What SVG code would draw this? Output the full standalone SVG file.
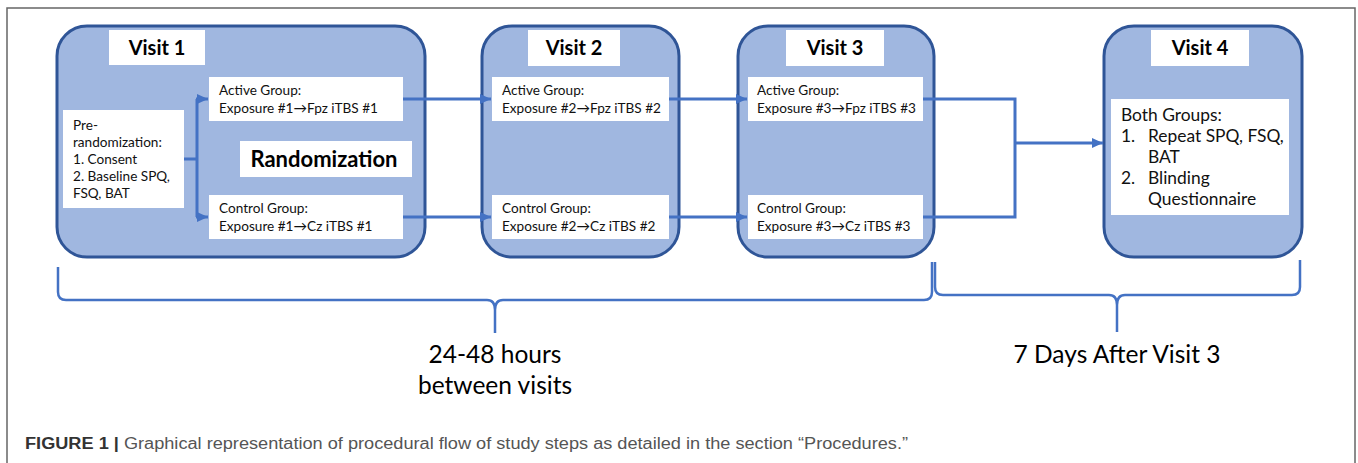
<svg xmlns="http://www.w3.org/2000/svg" width="1358" height="463" viewBox="0 0 1358 463">
<style>
.visit{fill:#A0B7E0;stroke:#2F5597;stroke-width:3}
.wb{fill:#FFFFFF;stroke:none}
.t{font-family:Lato,"Liberation Sans",sans-serif;fill:#111}
.lbl{font-family:Lato,"Liberation Sans",sans-serif;font-weight:bold;font-size:20px;fill:#000;text-anchor:middle}
.g{font-size:13.6px}
.v4{font-size:17.4px}
.conn{fill:none;stroke:#4472C4;stroke-width:3}
.br{fill:none;stroke:#4472C4;stroke-width:2.5}
.big{font-family:Lato,"Liberation Sans",sans-serif;font-size:24.5px;fill:#000;text-anchor:middle}
.cap{font-family:"Liberation Sans",Arial,sans-serif;font-size:16px;fill:#555}
</style>
<defs>
<marker id="ah" markerUnits="userSpaceOnUse" markerWidth="12" markerHeight="12" viewBox="0 0 12 12" refX="11" refY="6" orient="auto">
<path d="M0,1 L11,6 L0,11 Z" fill="#4472C4"/>
</marker>
</defs>
<rect x="7" y="8" width="1348" height="470" fill="none" stroke="#666" stroke-width="1.5"/>

<g id="visit1">
<rect class="visit" x="57" y="26" width="368" height="231" rx="30"/>
<rect class="wb" x="109" y="30" width="96" height="35"/>
<text class="lbl" x="157" y="55">Visit 1</text>
</g>
<g id="prerand">
<rect class="wb" x="63" y="110" width="121" height="98"/>
<text class="t g" x="73"><tspan x="73" y="130">Pre-</tspan><tspan x="73" y="147">randomization:</tspan><tspan x="73" y="164">1. Consent</tspan><tspan x="73" y="181">2. Baseline SPQ,</tspan><tspan x="73" y="198">FSQ, BAT</tspan></text>
</g>
<g id="active1">
<rect class="wb" x="209" y="77" width="194" height="44"/>
<text class="t g"><tspan x="219" y="95">Active Group:</tspan><tspan x="219" y="113">Exposure #1→Fpz iTBS #1</tspan></text>
</g>
<g id="randomization">
<rect class="wb" x="240" y="141" width="172" height="36"/>
<text class="lbl" x="324" y="167" style="font-size:22px">Randomization</text>
</g>
<g id="control1">
<rect class="wb" x="209" y="195" width="194" height="44"/>
<text class="t g"><tspan x="219" y="213">Control Group:</tspan><tspan x="219" y="231">Exposure #1→Cz iTBS #1</tspan></text>
</g>

<g id="visit2">
<rect class="visit" x="482" y="26" width="197" height="231" rx="30"/>
<rect class="wb" x="528" y="30" width="92" height="36"/>
<text class="lbl" x="574" y="55">Visit 2</text>
</g>
<g id="active2">
<rect class="wb" x="492" y="77" width="177" height="44"/>
<text class="t g"><tspan x="502" y="95">Active Group:</tspan><tspan x="502" y="113">Exposure #2→Fpz iTBS #2</tspan></text>
</g>
<g id="control2">
<rect class="wb" x="492" y="195" width="177" height="44"/>
<text class="t g"><tspan x="502" y="213">Control Group:</tspan><tspan x="502" y="231">Exposure #2→Cz iTBS #2</tspan></text>
</g>

<g id="visit3">
<rect class="visit" x="738" y="26" width="196" height="231" rx="30"/>
<rect class="wb" x="786" y="30" width="98" height="36"/>
<text class="lbl" x="835" y="55">Visit 3</text>
</g>
<g id="active3">
<rect class="wb" x="748" y="77" width="175" height="44"/>
<text class="t g"><tspan x="757" y="95">Active Group:</tspan><tspan x="757" y="113">Exposure #3→Fpz iTBS #3</tspan></text>
</g>
<g id="control3">
<rect class="wb" x="748" y="195" width="175" height="44"/>
<text class="t g"><tspan x="757" y="213">Control Group:</tspan><tspan x="757" y="231">Exposure #3→Cz iTBS #3</tspan></text>
</g>

<g id="visit4">
<rect class="visit" x="1104" y="26" width="198" height="231" rx="30"/>
<rect class="wb" x="1151" y="30" width="98" height="36"/>
<text class="lbl" x="1200" y="55">Visit 4</text>
</g>
<g id="bothgroups">
<rect class="wb" x="1111" y="99" width="178" height="116"/>
<text class="t v4"><tspan x="1121" y="121">Both Groups:</tspan><tspan x="1121" y="142">1.</tspan><tspan x="1148" y="142">Repeat SPQ, FSQ,</tspan><tspan x="1148" y="163">BAT</tspan><tspan x="1121" y="184">2.</tspan><tspan x="1148" y="184">Blinding</tspan><tspan x="1148" y="205">Questionnaire</tspan></text>
</g>

<g id="connectors">
<path class="conn" d="M184,159 H197 M197,99 V217"/>
<path class="conn" d="M196,99 H208" marker-end="url(#ah)"/>
<path class="conn" d="M196,217 H208" marker-end="url(#ah)"/>
<path class="conn" d="M403,99 H491" marker-end="url(#ah)"/>
<path class="conn" d="M403,217 H491" marker-end="url(#ah)"/>
<path class="conn" d="M669,99 H747" marker-end="url(#ah)"/>
<path class="conn" d="M669,217 H747" marker-end="url(#ah)"/>
<path class="conn" d="M923,99 H1015 V217 H923"/>
<path class="conn" d="M1015,143 H1103" marker-end="url(#ah)"/>
</g>

<g id="brackets">
<path class="br" d="M58,267 V292 Q58,300 66,300 H487 Q495,300 495,310 V333 M495,310 Q495,300 503,300 H924 Q932,300 932,292 V262"/>
<path class="br" d="M935,262 V287 Q935,295 943,295 H1109 Q1117,295 1117,305 V332 M1117,305 Q1117,295 1125,295 H1292 Q1300,295 1300,287 V260"/>
</g>

<g id="labels">
<text class="big" x="495" y="363">24-48 hours</text>
<text class="big" x="495" y="394">between visits</text>
<text class="big" x="1117" y="363">7 Days After Visit 3</text>
</g>

<text class="cap" x="25" y="449" textLength="883" lengthAdjust="spacingAndGlyphs"><tspan font-weight="bold" fill="#333">FIGURE 1 | </tspan>Graphical representation of procedural flow of study steps as detailed in the section “Procedures.”</text>
</svg>
